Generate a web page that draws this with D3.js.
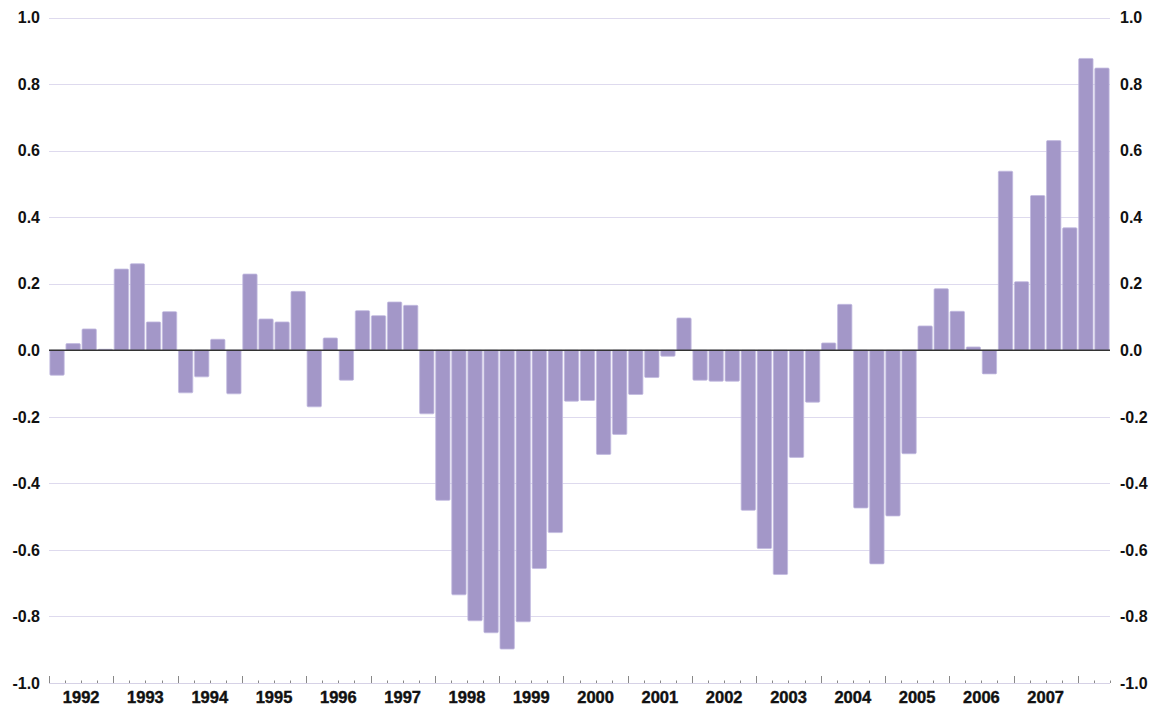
<!DOCTYPE html>
<html>
<head>
<meta charset="utf-8">
<script src="https://cdn.jsdelivr.net/npm/d3@7"></script>
<style>
  body { margin: 0; background: #fff; }
  svg { display: block; }
  .lbl { font-family: "Liberation Sans", Arial, sans-serif; font-weight: bold; fill: #111; }
</style>
</head>
<body>
<svg id="chart" width="1158" height="709"></svg>
<script>
// quarterly values, 1992 Q1 .. 2008 Q2
var years = ["1992","1993","1994","1995","1996","1997","1998","1999",
             "2000","2001","2002","2003","2004","2005","2006","2007","2008"];
var quarters = ["Q1","Q2","Q3","Q4"];
var values = [
  -0.075, 0.020, 0.064, 0.003,   // 1992
   0.244, 0.260, 0.085, 0.116,   // 1993
  -0.128,-0.080, 0.033,-0.131,   // 1994
   0.229, 0.094, 0.085, 0.177,   // 1995
  -0.170, 0.037,-0.090, 0.119,   // 1996
   0.104, 0.145, 0.135,-0.191,   // 1997
  -0.451,-0.735,-0.813,-0.849,   // 1998
  -0.898,-0.816,-0.656,-0.548,   // 1999
  -0.153,-0.151,-0.313,-0.253,   // 2000
  -0.133,-0.082,-0.018, 0.097,   // 2001
  -0.090,-0.093,-0.093,-0.481,   // 2002
  -0.596,-0.674,-0.322,-0.156,   // 2003
   0.022, 0.138,-0.474,-0.642,   // 2004
  -0.498,-0.311, 0.073, 0.185,   // 2005
   0.117, 0.010,-0.071, 0.538,   // 2006
   0.206, 0.465, 0.630, 0.368,   // 2007
   0.877, 0.848                  // 2008
];
var yTicks = [-1.0,-0.8,-0.6,-0.4,-0.2,0.0,0.2,0.4,0.6,0.8,1.0];

var data = values.map(function(v, i){
    return { key: years[Math.floor(i/4)] + quarters[i%4], year: years[Math.floor(i/4)], q: i%4, v: v };
});

var svg = d3.select("#chart");
var plotL = 49, plotR = 1110, plotT = 17.5, plotB = 683;

var x = d3.scaleBand()
    .domain(data.map(function(d){ return d.key; }))
    .range([plotL, plotR])
    .paddingInner(0.11)
    .paddingOuter(0.055);

var y = d3.scaleLinear().domain([-1, 1]).range([plotB, plotT]);

// grid
svg.append("g")
    .selectAll("line")
    .data(yTicks.filter(function(t){ return t > -1; }))
    .enter()
    .append("line")
    .attr("x1", plotL)
    .attr("x2", plotR)
    .attr("y1", function(d){ return Math.round(y(d)) + 0.5; })
    .attr("y2", function(d){ return Math.round(y(d)) + 0.5; })
    .attr("stroke", "#dedaee")
    .attr("stroke-width", 1);

// bars
svg.append("g")
    .selectAll("rect")
    .data(data)
    .enter()
    .append("rect")
    .attr("x", function(d){ return x(d.key); })
    .attr("width", x.bandwidth())
    .attr("y", function(d){ return y(Math.max(0, d.v)); })
    .attr("height", function(d){ return Math.abs(y(d.v) - y(0)); })
    .attr("rx", 1)
    .attr("fill", "#a397c8")
    .attr("stroke", "#c2badf")
    .attr("stroke-width", 0.8);

// zero line
svg.append("line")
    .attr("x1", plotL).attr("x2", plotR)
    .attr("y1", y(0)).attr("y2", y(0))
    .attr("stroke", "#333")
    .attr("stroke-width", 1.6);

// y labels, both sides (plain hyphen for minus)
var fmt = d3.formatLocale({ decimal: ".", thousands: ",", grouping: [3], currency: ["", ""], minus: "-" }).format(".1f");
svg.append("g")
    .selectAll("text")
    .data(yTicks)
    .enter()
    .append("text")
    .attr("class", "lbl")
    .attr("x", 40)
    .attr("y", function(d){ return y(d); })
    .attr("dy", "0.36em")
    .attr("text-anchor", "end")
    .attr("font-size", 16)
    .text(function(d){ return fmt(d); });
svg.append("g")
    .selectAll("text")
    .data(yTicks)
    .enter()
    .append("text")
    .attr("class", "lbl")
    .attr("x", 1120)
    .attr("y", function(d){ return y(d); })
    .attr("dy", "0.36em")
    .attr("text-anchor", "start")
    .attr("font-size", 16)
    .text(function(d){ return fmt(d); });

// x axis line + quarter ticks
var step = x.step();
var ax = svg.append("g");
ax.append("line")
    .attr("x1", plotL).attr("x2", plotR)
    .attr("y1", plotB + 0.5).attr("y2", plotB + 0.5)
    .attr("stroke", "#d6d2e6")
    .attr("stroke-width", 1.2);
var tickPos = d3.range(data.length + 1).map(function(i){ return { i: i, px: plotL + i * step }; });
ax.selectAll("line.tk")
    .data(tickPos)
    .enter()
    .append("line")
    .attr("class", "tk")
    .attr("x1", function(d){ return Math.round(d.px) + 0.5; })
    .attr("x2", function(d){ return Math.round(d.px) + 0.5; })
    .attr("y1", plotB)
    .attr("y2", function(d){ return d.i % 4 === 0 ? plotB - 7 : plotB - 2.5; })
    .attr("stroke", "#888")
    .attr("stroke-width", 1);

// year labels (full years only)
var fullYears = years.filter(function(yr){
    return data.filter(function(d){ return d.year === yr; }).length === 4;
});
ax.selectAll("text")
    .data(fullYears)
    .enter()
    .append("text")
    .attr("class", "lbl")
    .attr("x", function(yr){ return (x(yr + "Q1") + x(yr + "Q4") + x.bandwidth()) / 2; })
    .attr("y", 703)
    .attr("text-anchor", "middle")
    .attr("font-size", 16.5)
    .attr("stroke", "#111")
    .attr("stroke-width", 0.4)
    .text(function(yr){ return yr; });
</script>
</body>
</html>
